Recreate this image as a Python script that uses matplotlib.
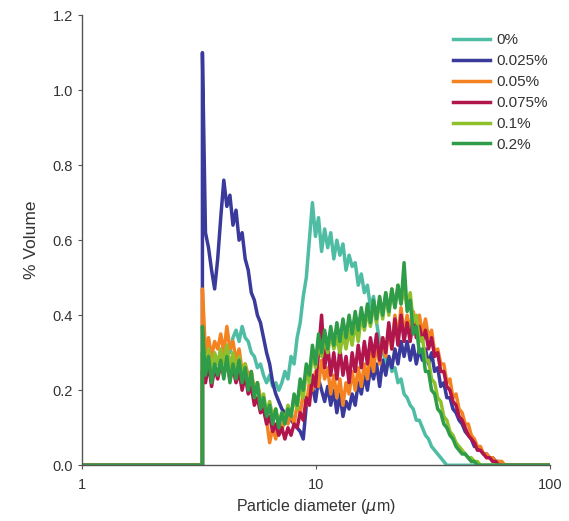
import numpy as np
import matplotlib
matplotlib.use("Agg")
import matplotlib.pyplot as plt
from matplotlib.ticker import FixedLocator, FixedFormatter, NullLocator

plt.rcParams['font.family'] = ['Liberation Sans', 'DejaVu Sans']

labels = ['0%', '0.025%', '0.05%', '0.075%', '0.1%', '0.2%']
colors = ['#4fbca4', '#3a3a9c', '#f58220', '#b0154c', '#8fc02c', '#2e9c48']

# instrument size bins (log spaced, um)
bins = np.geomspace(3.27, 66.0, 101)

y_0 = [0.30, 0.27, 0.30, 0.26, 0.29, 0.27, 0.31, 0.28, 0.32, 0.30,
       0.34, 0.36, 0.33, 0.37, 0.34, 0.33, 0.30, 0.29, 0.26, 0.27,
       0.24, 0.22, 0.24, 0.21, 0.22, 0.20, 0.22, 0.25, 0.23, 0.29,
       0.27, 0.34, 0.38, 0.45, 0.50, 0.60, 0.70, 0.61, 0.66, 0.57,
       0.63, 0.58, 0.62, 0.55, 0.60, 0.56, 0.59, 0.52, 0.56, 0.53,
       0.54, 0.48, 0.51, 0.46, 0.48, 0.42, 0.45, 0.38, 0.33, 0.31,
       0.27, 0.29, 0.25, 0.26, 0.22, 0.23, 0.19, 0.18, 0.16, 0.15,
       0.12, 0.12, 0.10, 0.08, 0.07, 0.05, 0.04, 0.03, 0.02, 0.01,
       0.00, 0.00, 0.00, 0.00, 0.00, 0.00, 0.00, 0.00, 0.00, 0.00,
       0.00, 0.00, 0.00, 0.00, 0.00, 0.00, 0.00, 0.00, 0.00, 0.00, 0.00]

y_0025 = [1.10, 0.62, 0.58, 0.52, 0.47, 0.55, 0.66, 0.76, 0.69, 0.72,
          0.64, 0.68, 0.60, 0.62, 0.55, 0.52, 0.46, 0.44, 0.40, 0.38,
          0.34, 0.30, 0.27, 0.22, 0.19, 0.17, 0.15, 0.14, 0.13, 0.12,
          0.11, 0.10, 0.09, 0.07, 0.16, 0.19, 0.21, 0.17, 0.23, 0.20,
          0.17, 0.21, 0.16, 0.20, 0.14, 0.19, 0.13, 0.17, 0.15, 0.19,
          0.16, 0.22, 0.19, 0.24, 0.20, 0.26, 0.23, 0.27, 0.21, 0.28,
          0.24, 0.29, 0.26, 0.31, 0.27, 0.33, 0.29, 0.33, 0.28, 0.32,
          0.27, 0.31, 0.28, 0.31, 0.27, 0.30, 0.25, 0.26, 0.21, 0.22,
          0.18, 0.18, 0.15, 0.14, 0.12, 0.11, 0.09, 0.08, 0.07, 0.05,
          0.05, 0.04, 0.03, 0.03, 0.02, 0.02, 0.01, 0.01, 0.00, 0.00, 0.00]

y_005 = [0.47, 0.30, 0.34, 0.29, 0.33, 0.31, 0.35, 0.30, 0.37, 0.31,
         0.33, 0.28, 0.31, 0.25, 0.27, 0.24, 0.25, 0.20, 0.22, 0.18,
         0.15, 0.12, 0.06, 0.10, 0.07, 0.12, 0.09, 0.13, 0.11, 0.14,
         0.11, 0.16, 0.14, 0.19, 0.16, 0.22, 0.20, 0.25, 0.21, 0.28,
         0.23, 0.26, 0.19, 0.24, 0.18, 0.23, 0.16, 0.22, 0.19, 0.25,
         0.20, 0.26, 0.21, 0.27, 0.23, 0.30, 0.25, 0.33, 0.27, 0.34,
         0.29, 0.37, 0.31, 0.40, 0.34, 0.42, 0.35, 0.40, 0.36, 0.41,
         0.36, 0.40, 0.35, 0.39, 0.34, 0.36, 0.30, 0.31, 0.27, 0.27,
         0.22, 0.23, 0.18, 0.19, 0.15, 0.14, 0.11, 0.11, 0.08, 0.07,
         0.05, 0.05, 0.03, 0.03, 0.02, 0.02, 0.01, 0.01, 0.01, 0.00, 0.00]

y_0075 = [0.25, 0.22, 0.27, 0.21, 0.26, 0.23, 0.27, 0.24, 0.28, 0.23,
          0.26, 0.22, 0.25, 0.20, 0.24, 0.19, 0.21, 0.16, 0.18, 0.14,
          0.15, 0.11, 0.13, 0.09, 0.11, 0.08, 0.10, 0.07, 0.10, 0.08,
          0.11, 0.10, 0.14, 0.12, 0.18, 0.16, 0.24, 0.21, 0.30, 0.40,
          0.26, 0.32, 0.24, 0.30, 0.23, 0.31, 0.24, 0.29, 0.22, 0.30,
          0.25, 0.32, 0.26, 0.33, 0.27, 0.34, 0.29, 0.35, 0.28, 0.34,
          0.30, 0.38, 0.31, 0.39, 0.32, 0.40, 0.33, 0.38, 0.33, 0.39,
          0.34, 0.37, 0.33, 0.36, 0.31, 0.34, 0.29, 0.30, 0.25, 0.25,
          0.21, 0.20, 0.17, 0.16, 0.13, 0.12, 0.10, 0.08, 0.07, 0.06,
          0.04, 0.04, 0.03, 0.02, 0.02, 0.01, 0.01, 0.00, 0.00, 0.00, 0.00]

y_01 = [0.30, 0.26, 0.31, 0.25, 0.30, 0.27, 0.31, 0.27, 0.32, 0.26,
        0.30, 0.25, 0.29, 0.24, 0.27, 0.21, 0.24, 0.20, 0.22, 0.16,
        0.19, 0.14, 0.17, 0.13, 0.15, 0.11, 0.14, 0.12, 0.16, 0.13,
        0.18, 0.15, 0.21, 0.18, 0.25, 0.22, 0.30, 0.26, 0.33, 0.29,
        0.34, 0.30, 0.35, 0.31, 0.34, 0.30, 0.35, 0.31, 0.36, 0.32,
        0.38, 0.33, 0.40, 0.36, 0.41, 0.37, 0.43, 0.38, 0.44, 0.39,
        0.46, 0.40, 0.47, 0.42, 0.48, 0.43, 0.47, 0.42, 0.46, 0.38,
        0.40, 0.33, 0.34, 0.28, 0.28, 0.23, 0.22, 0.18, 0.17, 0.13,
        0.12, 0.09, 0.08, 0.06, 0.05, 0.04, 0.03, 0.02, 0.02, 0.01,
        0.01, 0.00, 0.00, 0.00, 0.00, 0.00, 0.00, 0.00, 0.00, 0.00, 0.00]

y_02 = [0.37, 0.24, 0.29, 0.22, 0.27, 0.24, 0.28, 0.23, 0.29, 0.22,
        0.27, 0.23, 0.28, 0.22, 0.26, 0.20, 0.25, 0.18, 0.22, 0.15,
        0.18, 0.13, 0.16, 0.11, 0.15, 0.10, 0.14, 0.11, 0.15, 0.13,
        0.19, 0.16, 0.23, 0.20, 0.27, 0.24, 0.32, 0.27, 0.35, 0.30,
        0.36, 0.31, 0.37, 0.32, 0.38, 0.33, 0.39, 0.34, 0.40, 0.35,
        0.41, 0.36, 0.42, 0.37, 0.43, 0.38, 0.44, 0.39, 0.45, 0.40,
        0.46, 0.41, 0.47, 0.42, 0.48, 0.43, 0.54, 0.41, 0.44, 0.35,
        0.37, 0.30, 0.31, 0.25, 0.25, 0.20, 0.19, 0.15, 0.14, 0.11,
        0.10, 0.08, 0.07, 0.05, 0.04, 0.03, 0.03, 0.02, 0.01, 0.01,
        0.00, 0.00, 0.00, 0.00, 0.00, 0.00, 0.00, 0.00, 0.00, 0.00, 0.00]

series = [y_0, y_0025, y_005, y_0075, y_01, y_02]

fig = plt.figure(figsize=(5.69, 5.21), dpi=100)
ax = fig.add_axes([0.144, 0.107, 0.823, 0.864])

x_full = np.concatenate([[1.0, 3.27], bins, [100.0]])
for ys, lab, col in zip(series, labels, colors):
    y_full = np.concatenate([[0.0, 0.0], ys, [0.0]])
    ax.plot(x_full, y_full, color=col, lw=2.5, label=lab)

ax.set_xscale('log')
ax.set_xlim(1, 100)
ax.set_ylim(0, 1.2)
ax.xaxis.set_major_locator(FixedLocator([1, 10, 100]))
ax.xaxis.set_major_formatter(FixedFormatter(['1', '10', '100']))
ax.xaxis.set_minor_locator(NullLocator())
ax.set_yticks([0.0, 0.2, 0.4, 0.6, 0.8, 1.0, 1.2])
ax.set_yticklabels(['0.0', '0.2', '0.4', '0.6', '0.8', '1.0', '1.2'])

for s in ['top', 'right']:
    ax.spines[s].set_visible(False)
for s in ['left', 'bottom']:
    ax.spines[s].set_color('#555555')
    ax.spines[s].set_linewidth(1.0)
ax.tick_params(axis='both', colors='#555555', labelcolor='#333333', labelsize=10.5,
               length=3, width=0.8, direction='out')
ax.tick_params(axis='x', pad=6)

ax.set_xlabel(r'Particle diameter ($\mu$m)', fontsize=11.5, color='#333333', labelpad=4)
ax.set_ylabel('% Volume', fontsize=12.5, color='#333333', labelpad=10)

leg = ax.legend(loc='upper right', bbox_to_anchor=(1.025, 0.99), frameon=False,
                fontsize=11, handlelength=2.4, labelspacing=0.45, handletextpad=0.45)
for t in leg.get_texts():
    t.set_color('#333333')

fig.savefig('out.png', dpi=100)
